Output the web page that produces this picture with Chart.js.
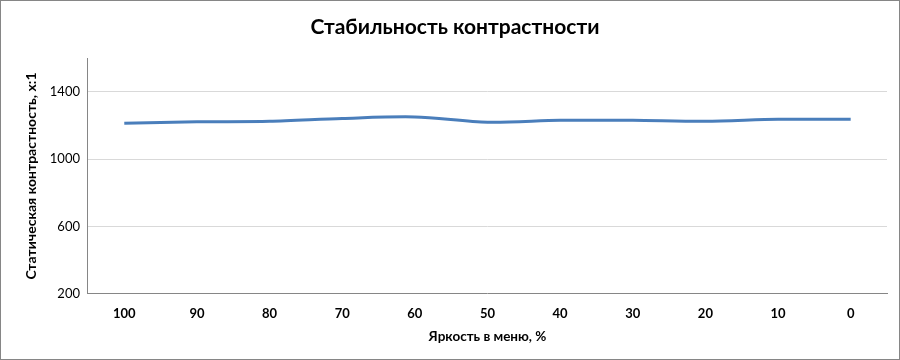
<!DOCTYPE html>
<html><head><meta charset="utf-8">
<script src="https://cdn.jsdelivr.net/npm/chart.js@4/dist/chart.umd.min.js"></script>
<style>html,body{margin:0;padding:0;background:#fff}#wrap{width:900px;height:360px;position:relative}</style>
</head><body><div id="wrap"><canvas id="c" width="900" height="360"></canvas></div>
<script>
const categories = ['100','90','80','70','60','50','40','30','20','10','0'];
const contrast = [1213, 1222, 1225, 1242, 1251, 1219, 1231, 1231, 1225, 1237, 1237];
const yTicks = [200, 600, 1000, 1400];

const borderPlugin = {
  id: 'outerBorder',
  afterDraw(chart) {
    const ctx = chart.ctx;
    ctx.save();
    ctx.strokeStyle = '#868686';
    ctx.lineWidth = 1;
    ctx.strokeRect(0.5, 0.5, chart.width - 1, chart.height - 1);
    ctx.restore();
  }
};

new Chart(document.getElementById('c'), {
  type: 'line',
  data: {
    labels: categories,
    datasets: [{
      data: contrast,
      borderColor: '#4a7ebb',
      borderWidth: 3,
      pointRadius: 0,
      tension: 0.3,
      fill: false
    }]
  },
  options: {
    responsive: false,
    animation: false,
    layout: { padding: { left: 23, right: 13, top: 8, bottom: 15 } },
    plugins: {
      legend: { display: false },
      tooltip: { enabled: false },
      title: {
        display: true,
        text: 'Стабильность контрастности',
        color: '#000',
        font: { family: 'Lato', size: 21, weight: 'bold' },
        padding: { top: 7, bottom: 18 }
      }
    },
    scales: {
      x: {
        type: 'category',
        offset: true,
        grid: { display: false, drawTicks: false },
        border: { color: '#868686', width: 1 },
        ticks: { color: '#000', font: { family: 'Lato', size: 13, weight: 'bold', lineHeight: 1 }, padding: 14, maxRotation: 0 },
        title: { display: true, text: 'Яркость в меню, %', color: '#000', font: { family: 'Lato', size: 13.5, weight: 'bold' }, padding: { top: -6, bottom: 0 } }
      },
      y: {
        min: 200,
        max: 1600,
        afterBuildTicks(axis) { axis.ticks = [...yTicks, 1600].map(v => ({ value: v })); },
        grid: {
          color: ctx => (ctx.tick && (ctx.tick.value === 1600 || ctx.tick.value === 200)) ? 'rgba(0,0,0,0)' : '#d9d9d9',
          drawTicks: false
        },
        border: { color: '#868686', width: 1 },
        ticks: {
          color: '#000',
          font: { family: 'Lato', size: 13 },
          padding: 8,
          callback: v => (v === 1600 ? '' : String(v))
        },
        title: { display: true, text: 'Статическая контрастность, x:1', color: '#000', font: { family: 'Lato', size: 14, weight: 'bold' }, padding: { top: 0, bottom: 2 } }
      }
    }
  },
  plugins: [borderPlugin]
});
</script></body></html>
